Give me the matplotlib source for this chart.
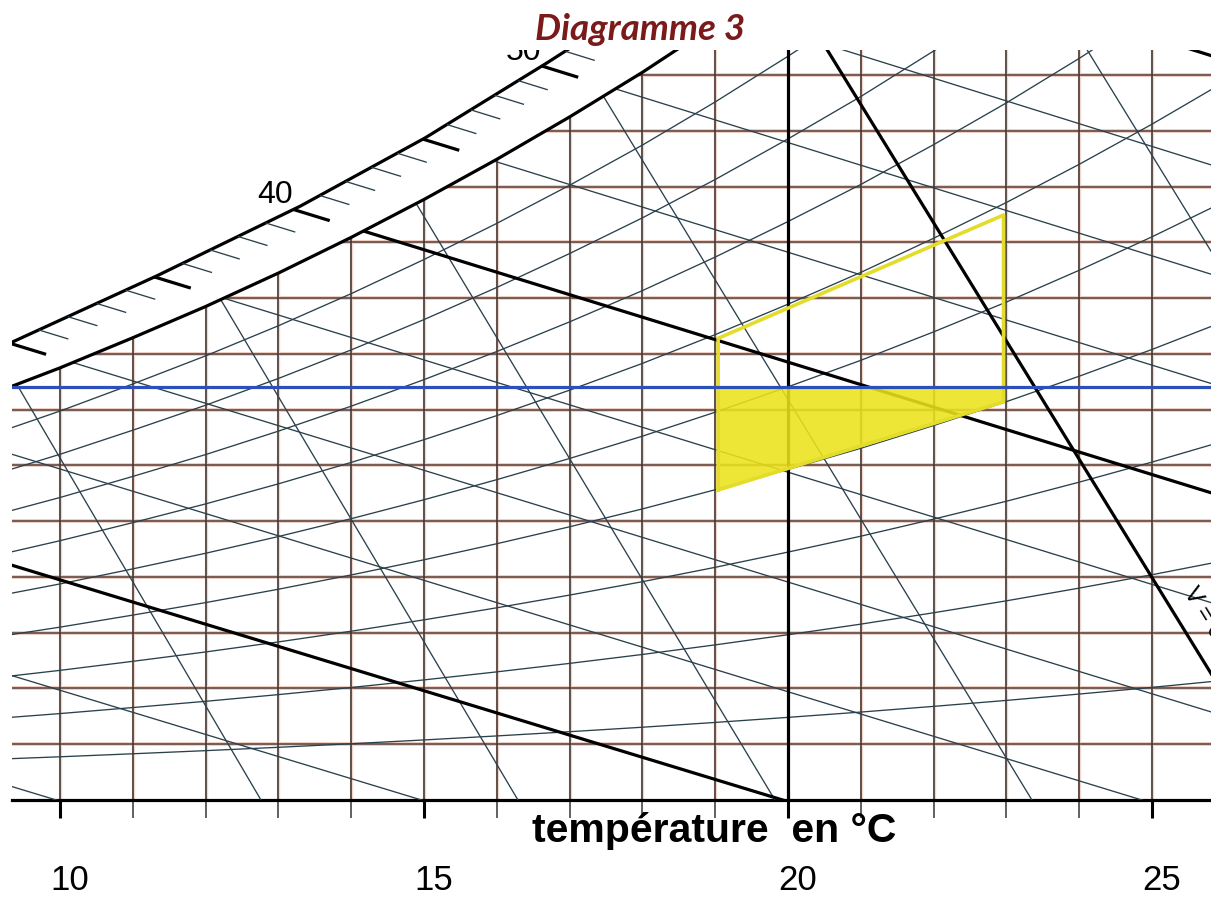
import numpy as np
import matplotlib.pyplot as plt
from matplotlib.patches import Polygon
from matplotlib.transforms import ScaledTranslation

plt.rcParams['font.family'] = ['Liberation Sans', 'DejaVu Sans']

# Chart frame: dry-bulb temperature (°C) x humidity (g/kg)
t_min, t_max = 9.34, 25.81
w_min, w_max = 0.0, 13.45

# Saturation curve (100 % RH), read at each degree
sat_t = list(range(9, 27))
sat_w = [7.25, 7.75, 8.29, 8.85, 9.45, 10.09, 10.77, 11.49, 12.25, 13.05,
         13.91, 14.82, 15.77, 16.79, 17.86, 19.00, 20.20, 21.47]

# Outer line of the enthalpy scale band
band_t = [8.90, 9.34, 11.33, 13.30, 15.01, 16.69, 17.42]
band_w = [7.95, 8.21, 9.40, 10.65, 11.87, 13.22, 13.83]

rh_levels = [10, 20, 30, 40, 50, 60, 70, 80, 90]

# Enthalpy lines (kJ/kg): humidity where each crosses the left / right frame
enth_levels = [10, 15, 20, 25, 30, 35, 40, 45, 50, 55, 60]
enth_w_left = [0.24, 2.23, 4.21, 6.20, 8.18, 10.17, 12.15, 14.14, 16.12, 18.11, 20.10]
enth_w_right = [-6.26, -4.30, -2.34, -0.38, 1.58, 3.54, 5.51, 7.47, 9.43, 11.39, 13.35]
enth_bold = [20, 40, 60]
scale_labels = [40, 50]

# Specific volume lines (m3/kg): temperature at 0 g/kg and at 14 g/kg
vol_levels = [0.81, 0.82, 0.83, 0.84, 0.85, 0.86]
vol_t_dry = [12.76, 16.29, 19.82, 23.35, 26.88, 30.45]
vol_t_14 = [6.46, 9.92, 13.37, 16.82, 20.28, 23.85]
vol_bold = 0.85

temp_grid = list(range(10, 26))
hum_grid = list(range(1, 14))
temp_labels = [10, 15, 20, 25]

blue_w = 7.4

# Comfort zone (19-23 °C)
zone_t = [19.04, 22.96]
zone_low_w = [5.56, 7.14]
zone_high_w = [8.28, 10.49]

H_HALO = '#eec3b4'
V_HALO = '#f3d6cc'
HGRID = '#6a5550'
VGRID = '#3b3431'
DIAG = '#2a414c'

fig = plt.figure(figsize=(12.11, 8.98), dpi=100)
ax = fig.add_axes([12 / 1211, 98 / 898, 1199 / 1211, 750 / 898])
ax.set_xlim(t_min, t_max)
ax.set_ylim(w_min, w_max)
for s in ['left', 'right', 'top']:
    ax.spines[s].set_visible(False)
ax.spines['bottom'].set_linewidth(2.3)
ax.set_yticks([])

ax.set_xticks(temp_labels)
ax.set_xticks(temp_grid, minor=True)
ax.set_xticklabels([str(t) for t in temp_labels])
ax.tick_params(axis='x', which='major', direction='out', length=13, width=2.2,
               pad=33, labelsize=25)
ax.tick_params(axis='x', which='minor', direction='out', length=13, width=1.1,
               color=VGRID)
shift = ScaledTranslation(10 / 100, 0, fig.dpi_scale_trans)
for lab in ax.get_xticklabels():
    lab.set_transform(lab.get_transform() + shift)

# region below the saturation curve: the grid only lives there
under_sat = Polygon(np.column_stack([sat_t + [sat_t[-1], sat_t[0]], sat_w + [-1, -1]]),
                    closed=True, transform=ax.transData)

def clip(lines):
    for ln in lines:
        ln.set_clip_path(under_sat)

# horizontal humidity lines
for w in hum_grid:
    clip(ax.plot([t_min, t_max], [w, w], color=H_HALO, lw=2.6, zorder=1))
    clip(ax.plot([t_min, t_max], [w, w], color=HGRID, lw=1.3, zorder=2))

# vertical temperature lines
for t in temp_grid:
    if t == 20:
        clip(ax.plot([t, t], [0, 15], color='black', lw=2.3, zorder=4))
    else:
        clip(ax.plot([t, t], [0, 15], color=V_HALO, lw=2.4, zorder=1))
        clip(ax.plot([t, t], [0, 15], color=VGRID, lw=1.15, zorder=2))

# relative humidity curves
for rh in rh_levels:
    clip(ax.plot(sat_t, np.array(sat_w) * rh / 100, color=DIAG, lw=0.95, zorder=3))

# enthalpy lines
for h, wl, wr in zip(enth_levels, enth_w_left, enth_w_right):
    bold = h in enth_bold
    clip(ax.plot([t_min, t_max], [wl, wr], color='black' if bold else DIAG,
                 lw=2.3 if bold else 0.95, zorder=4 if bold else 3))

# specific volume lines
for v, t0, t14 in zip(vol_levels, vol_t_dry, vol_t_14):
    bold = v == vol_bold
    clip(ax.plot([t0, t14], [0, 14], color='black' if bold else DIAG,
                 lw=2.3 if bold else 0.95, zorder=4 if bold else 3))

# saturation curve and outer line of the enthalpy scale
ax.plot(sat_t, sat_w, color='black', lw=2.3, zorder=4)
ax.plot(band_t, band_w, color='black', lw=2.3, zorder=4)

# enthalpy scale ticks hanging from the outer line
fine_t = np.linspace(band_t[0], band_t[-1], 4000)
fine_band = np.interp(fine_t, band_t, band_w)
for h in range(28, 60):
    wl = np.interp(h, enth_levels, enth_w_left)
    wr = np.interp(h, enth_levels, enth_w_right)
    line_w = wl + (wr - wl) * (fine_t - t_min) / (t_max - t_min)
    cross = np.where(np.diff(np.sign(fine_band - line_w)) != 0)[0]
    if len(cross) == 0:
        continue
    t0 = fine_t[cross[0]]
    w0 = np.interp(t0, band_t, band_w)
    p0 = ax.transData.transform((t0, w0))
    p1 = ax.transData.transform((t0 + 1, wl + (wr - wl) * (t0 + 1 - t_min) / (t_max - t_min)))
    d = (p1 - p0) / np.hypot(*(p1 - p0))
    major = h % 5 == 0
    t1, w1 = ax.transData.inverted().transform(p0 + d * (38 if major else 31))
    ax.plot([t0, t1], [w0, w1], color='black' if major else DIAG,
            lw=2.3 if major else 0.95, zorder=4, solid_capstyle='butt')
    if h in scale_labels:
        ax.annotate(str(h), (t0, w0), xytext=(-18, 14), textcoords='offset pixels',
                    ha='center', va='center', fontsize=23, clip_on=True)

# volume label along the bold volume line (runs off the right edge)
ax.text(25.43, 3.73, 'V = 0,85 m³/kg', rotation=-58.4, rotation_mode='anchor',
        ha='left', va='baseline', fontsize=17, clip_on=True)

# comfort zone
ax.fill_between(zone_t, zone_low_w, [blue_w, blue_w], color='#ebe31a', alpha=0.88,
                lw=0, zorder=5)
ax.plot([zone_t[0], zone_t[0], zone_t[1], zone_t[1], zone_t[0]],
        [zone_low_w[0], zone_high_w[0], zone_high_w[1], zone_low_w[1], zone_low_w[0]],
        color='#e4dc2a', lw=2.6, zorder=6, solid_joinstyle='round')

ax.axhline(blue_w, color='#2c50b8', lw=2.3, zorder=7)

fig.text(640 / 1211, 1 - 40 / 898, 'Diagramme 3', ha='center', va='baseline',
         fontsize=26.5, fontweight='bold', fontstyle='italic', color='#7a1a1a',
         family=['Lato', 'DejaVu Sans'])
fig.text(714 / 1211, 1 - 842 / 898, 'température  en °C', ha='center', va='baseline',
         fontsize=29.5, fontweight='bold')

fig.savefig('out.png', dpi=100)
